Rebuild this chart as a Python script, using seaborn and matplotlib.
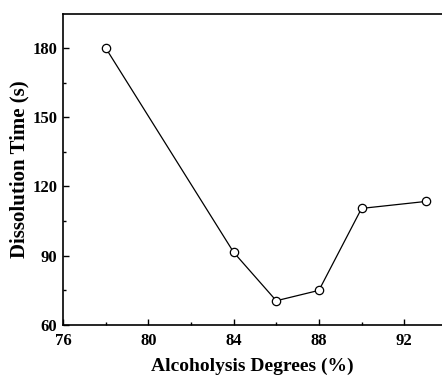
import matplotlib
matplotlib.use("Agg")
import matplotlib.pyplot as plt
from matplotlib.ticker import MultipleLocator
import seaborn as sns
import pandas as pd

alcoholysis_degree = [78, 84, 86, 88, 90, 93]
dissolution_time = [180, 91.5, 70.5, 75, 110.5, 113.5]
x_ticks = [76, 80, 84, 88, 92]
y_ticks = [60, 90, 120, 150, 180]

sns.set_style("ticks")
plt.rcParams["font.family"] = ["Liberation Serif", "DejaVu Serif"]
plt.rcParams["font.weight"] = "bold"
plt.rcParams["text.color"] = "black"
plt.rcParams["axes.labelcolor"] = "black"
plt.rcParams["xtick.color"] = "black"
plt.rcParams["ytick.color"] = "black"

df = pd.DataFrame({"deg": alcoholysis_degree, "time": dissolution_time})

fig = plt.figure(figsize=(4.42, 3.77), dpi=100)
ax = fig.add_axes([63 / 442, 1 - 325 / 377, 1 - 63 / 442, (325 - 14) / 377])

sns.lineplot(data=df, x="deg", y="time", ax=ax, color="black", linewidth=0.9,
             marker="o", markersize=6, markerfacecolor="white",
             markeredgecolor="black", markeredgewidth=0.9)

ax.set_xlim(76, 93.77)
ax.set_ylim(60, 194.7)
ax.set_xticks(x_ticks)
ax.set_yticks(y_ticks)
ax.xaxis.set_minor_locator(MultipleLocator(2))
ax.yaxis.set_minor_locator(MultipleLocator(15))
ax.tick_params(which="both", direction="in", labelsize=12, width=1,
               color="black", labelcolor="black")
ax.tick_params(which="major", length=4)
ax.tick_params(which="minor", length=2.5)
ax.tick_params(axis="x", pad=6)
ax.tick_params(axis="y", pad=4)
for lbl in ax.get_xticklabels() + ax.get_yticklabels():
    lbl.set_fontweight("bold")

for side in ["left", "bottom", "top"]:
    ax.spines[side].set_linewidth(1.2)
    ax.spines[side].set_color("black")
ax.spines["right"].set_visible(False)

ax.set_xlabel("Alcoholysis Degrees (%)", fontsize=14, fontweight="bold", labelpad=6)
ax.set_ylabel("Dissolution Time (s)", fontsize=15, fontweight="bold", labelpad=2)

fig.savefig("out.png", dpi=100)
